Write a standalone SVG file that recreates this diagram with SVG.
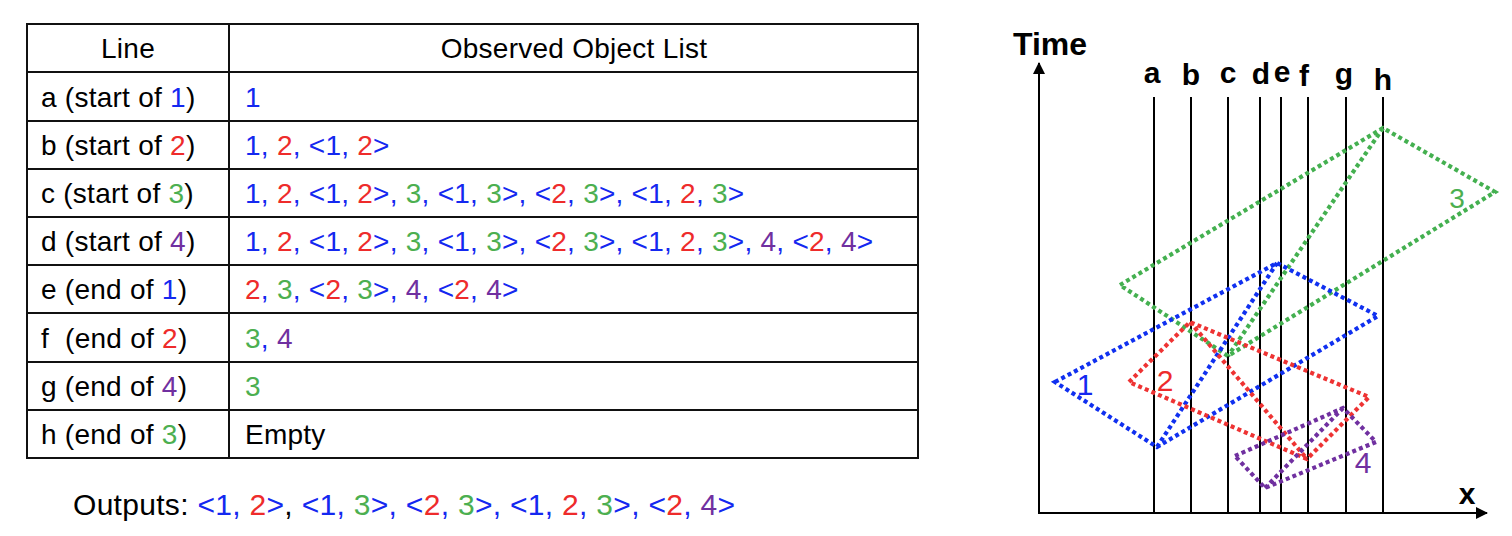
<svg xmlns="http://www.w3.org/2000/svg" width="1512" height="536" viewBox="0 0 1512 536">
<style>
text{font-family:"Liberation Sans",Arial,sans-serif;fill:#000;white-space:pre}
.t{font-size:28px;letter-spacing:0.25px}
.o{font-size:30px;letter-spacing:0.3px}
.ax{font-size:30px;font-weight:bold}
.B{fill:#1428f0}.R{fill:#ee2b2b}.G{fill:#4caf50}.P{fill:#7030a0}
.grid{stroke:#111;stroke-width:2;fill:none}
.vl{stroke:#000;stroke-width:2}
.poly{fill:none;stroke-width:4.2;stroke-dasharray:4 3.2}
.sB{stroke:#1030f0}.sR{stroke:#ee3333}.sG{stroke:#44b050}.sP{stroke:#7030a0}
</style>
<defs>
<marker id="arr" viewBox="0 0 12 12" refX="11" refY="6" markerWidth="12" markerHeight="12" markerUnits="userSpaceOnUse" orient="auto">
<path d="M0,0 L12,6 L0,12 Z" fill="#000"/>
</marker>
</defs>
<g id="table">
<rect class="grid" x="27" y="24" width="891" height="434"/>
<line class="grid" x1="229" y1="24" x2="229" y2="458"/>
<line class="grid" x1="27" y1="72" x2="918" y2="72"/>
<line class="grid" x1="27" y1="121" x2="918" y2="121"/>
<line class="grid" x1="27" y1="169" x2="918" y2="169"/>
<line class="grid" x1="27" y1="217" x2="918" y2="217"/>
<line class="grid" x1="27" y1="265" x2="918" y2="265"/>
<line class="grid" x1="27" y1="313" x2="918" y2="313"/>
<line class="grid" x1="27" y1="362" x2="918" y2="362"/>
<line class="grid" x1="27" y1="410" x2="918" y2="410"/>
<text class="t" x="128" y="58" text-anchor="middle">Line</text>
<text class="t" x="574" y="58" text-anchor="middle">Observed Object List</text>
<text class="t" x="41" y="106.5">a (start of <tspan class="B">1</tspan>)</text>
<text class="t" x="41" y="155">b (start of <tspan class="R">2</tspan>)</text>
<text class="t" x="41" y="203">c (start of <tspan class="G">3</tspan>)</text>
<text class="t" x="41" y="251">d (start of <tspan class="P">4</tspan>)</text>
<text class="t" x="41" y="299">e (end of <tspan class="B">1</tspan>)</text>
<text class="t" x="41" y="347.5">f  (end of <tspan class="R">2</tspan>)</text>
<text class="t" x="41" y="396">g (end of <tspan class="P">4</tspan>)</text>
<text class="t" x="41" y="444">h (end of <tspan class="G">3</tspan>)</text>
<text class="t" x="245" y="106.5"><tspan class="B">1</tspan></text>
<text class="t" x="245" y="155"><tspan class="B">1, </tspan><tspan class="R">2</tspan><tspan class="B">, &lt;1, </tspan><tspan class="R">2</tspan><tspan class="B">&gt;</tspan></text>
<text class="t" x="245" y="203"><tspan class="B">1, </tspan><tspan class="R">2</tspan><tspan class="B">, &lt;1, </tspan><tspan class="R">2</tspan><tspan class="B">&gt;, </tspan><tspan class="G">3</tspan><tspan class="B">, &lt;1, </tspan><tspan class="G">3</tspan><tspan class="B">&gt;, &lt;</tspan><tspan class="R">2</tspan><tspan class="B">, </tspan><tspan class="G">3</tspan><tspan class="B">&gt;, &lt;1, </tspan><tspan class="R">2</tspan><tspan class="B">, </tspan><tspan class="G">3</tspan><tspan class="B">&gt;</tspan></text>
<text class="t" x="245" y="251"><tspan class="B">1, </tspan><tspan class="R">2</tspan><tspan class="B">, &lt;1, </tspan><tspan class="R">2</tspan><tspan class="B">&gt;, </tspan><tspan class="G">3</tspan><tspan class="B">, &lt;1, </tspan><tspan class="G">3</tspan><tspan class="B">&gt;, &lt;</tspan><tspan class="R">2</tspan><tspan class="B">, </tspan><tspan class="G">3</tspan><tspan class="B">&gt;, &lt;1, </tspan><tspan class="R">2</tspan><tspan class="B">, </tspan><tspan class="G">3</tspan><tspan class="B">&gt;, </tspan><tspan class="P">4</tspan><tspan class="B">, &lt;</tspan><tspan class="R">2</tspan><tspan class="B">, </tspan><tspan class="P">4</tspan><tspan class="B">&gt;</tspan></text>
<text class="t" x="245" y="299"><tspan class="R">2</tspan><tspan class="B">, </tspan><tspan class="G">3</tspan><tspan class="B">, &lt;</tspan><tspan class="R">2</tspan><tspan class="B">, </tspan><tspan class="G">3</tspan><tspan class="B">&gt;, </tspan><tspan class="P">4</tspan><tspan class="B">, &lt;</tspan><tspan class="R">2</tspan><tspan class="B">, </tspan><tspan class="P">4</tspan><tspan class="B">&gt;</tspan></text>
<text class="t" x="245" y="347.5"><tspan class="G">3</tspan><tspan class="B">, </tspan><tspan class="P">4</tspan></text>
<text class="t" x="245" y="396"><tspan class="G">3</tspan></text>
<text class="t" x="245" y="444">Empty</text>
</g>
<g id="outputs">
<text class="o" x="73" y="515">Outputs: <tspan class="B">&lt;1, </tspan><tspan class="R">2</tspan><tspan class="B">&gt;</tspan>, <tspan class="B">&lt;1, </tspan><tspan class="G">3</tspan><tspan class="B">&gt;, &lt;</tspan><tspan class="R">2</tspan><tspan class="B">, </tspan><tspan class="G">3</tspan><tspan class="B">&gt;, &lt;1, </tspan><tspan class="R">2</tspan><tspan class="B">, </tspan><tspan class="G">3</tspan><tspan class="B">&gt;, &lt;</tspan><tspan class="R">2</tspan><tspan class="B">, </tspan><tspan class="P">4</tspan><tspan class="B">&gt;</tspan></text>
</g>
<g id="axes">
<line class="vl" x1="1039" y1="514" x2="1039" y2="63" marker-end="url(#arr)"/>
<line class="vl" x1="1038" y1="513" x2="1487" y2="513" marker-end="url(#arr)"/>
<text class="ax" x="1013" y="55" style="font-size:32px">Time</text>
<text class="ax" x="1467" y="504" text-anchor="middle">x</text>
</g>
<g id="sweep-lines">
<line class="vl" x1="1154" y1="97" x2="1154" y2="513"/>
<line class="vl" x1="1191" y1="97" x2="1191" y2="513"/>
<line class="vl" x1="1228" y1="97" x2="1228" y2="513"/>
<line class="vl" x1="1260" y1="97" x2="1260" y2="513"/>
<line class="vl" x1="1281" y1="97" x2="1281" y2="513"/>
<line class="vl" x1="1308" y1="97" x2="1308" y2="513"/>
<line class="vl" x1="1346" y1="97" x2="1346" y2="513"/>
<line class="vl" x1="1383" y1="97" x2="1383" y2="513"/>
<text class="ax" x="1152" y="83" text-anchor="middle">a</text>
<text class="ax" x="1191" y="85" text-anchor="middle">b</text>
<text class="ax" x="1228" y="83" text-anchor="middle">c</text>
<text class="ax" x="1261" y="84" text-anchor="middle">d</text>
<text class="ax" x="1282" y="82" text-anchor="middle">e</text>
<text class="ax" x="1304" y="86" text-anchor="middle">f</text>
<text class="ax" x="1344" y="84" text-anchor="middle">g</text>
<text class="ax" x="1383" y="90" text-anchor="middle">h</text>
</g>
<g id="obj3">
<path class="poly sG" d="M1120,285 L1383,128 L1495,192 L1228,356 Z M1383,128 L1228,356"/>
<text x="1457" y="208" text-anchor="middle" class="G" style="font-size:28px">3</text>
</g>
<g id="obj1">
<path class="poly sB" d="M1055,382 L1277,263 L1378,316 L1157,447 Z M1157,447 L1277,263"/>
<text x="1085" y="395" text-anchor="middle" class="B" style="font-size:30px">1</text>
</g>
<g id="obj2">
<path class="poly sR" d="M1129,382 L1190,322 L1369,397 L1307,459 Z M1190,322 L1307,459"/>
<text x="1165" y="391" text-anchor="middle" class="R" style="font-size:30px">2</text>
</g>
<g id="obj4">
<path class="poly sP" d="M1235,456 L1343,408 L1376,442 L1265,488 Z M1265,488 L1343,408"/>
<text x="1363" y="473" text-anchor="middle" class="P" style="font-size:30px">4</text>
</g>
</svg>
